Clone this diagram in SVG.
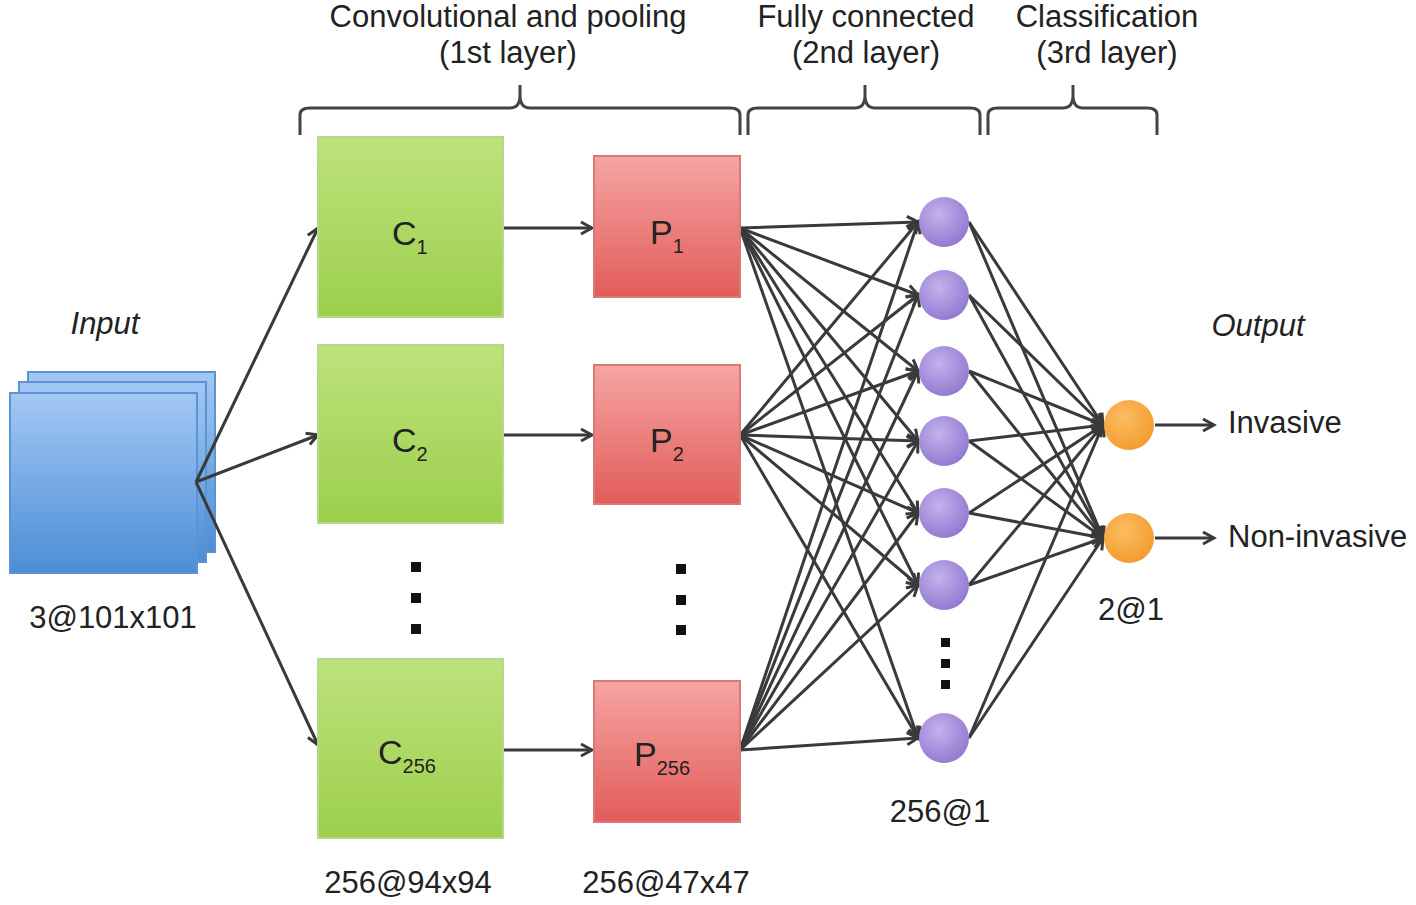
<svg xmlns="http://www.w3.org/2000/svg" width="1416" height="905" viewBox="0 0 1416 905">
<style>
text{font-family:"Liberation Sans",Arial,sans-serif;fill:#222;font-size:31px}
.it{font-style:italic}
.big{font-size:34px}
.c{fill:url(#gg);stroke:#b5d98a;stroke-width:2}
.p{fill:url(#rg);stroke:#d87a78;stroke-width:2}
.in{fill:url(#bg);stroke:#5b93d3;stroke-width:2}
.ln{stroke:#3a3a3a;stroke-width:3;fill:none}
.ar{marker-end:url(#ah)}
.br{stroke:#444;stroke-width:3;fill:none}
.pu{fill:url(#pg)}
.or{fill:url(#og)}
</style>
<defs>
<linearGradient id="gg" x1="0" y1="0" x2="0" y2="1"><stop offset="0" stop-color="#bde27c"/><stop offset="1" stop-color="#9ccf4c"/></linearGradient>
<linearGradient id="rg" x1="0" y1="0" x2="0" y2="1"><stop offset="0" stop-color="#f6a5a3"/><stop offset="1" stop-color="#e25c59"/></linearGradient>
<linearGradient id="bg" x1="0" y1="0" x2="0" y2="1"><stop offset="0" stop-color="#a3c8f5"/><stop offset="1" stop-color="#4b8ed6"/></linearGradient>
<radialGradient id="pg" cx="0.4" cy="0.35" r="0.7"><stop offset="0" stop-color="#c3b2ec"/><stop offset="1" stop-color="#9077cf"/></radialGradient>
<radialGradient id="og" cx="0.4" cy="0.35" r="0.7"><stop offset="0" stop-color="#fbbd63"/><stop offset="1" stop-color="#f39a2c"/></radialGradient>
<marker id="ah" markerWidth="16" markerHeight="16" refX="13" refY="8" orient="auto" markerUnits="userSpaceOnUse"><path d="M2,2 L13,8 L2,14" fill="none" stroke="#3a3a3a" stroke-width="3"/></marker>
</defs>

<g id="braces">
<path class="br" d="M300,135 V115 Q300,108 310,108 H510 Q520,108 520,95 V85 M520,95 Q520,108 530,108 H730 Q740,108 740,115 V135"/>
<path class="br" d="M748,135 V115 Q748,108 758,108 H855 Q865,108 865,95 V85 M865,95 Q865,108 875,108 H970 Q980,108 980,115 V135"/>
<path class="br" d="M988,135 V115 Q988,108 998,108 H1063 Q1073,108 1073,95 V85 M1073,95 Q1073,108 1083,108 H1147 Q1157,108 1157,115 V135"/>
<text x="508" y="27" text-anchor="middle">Convolutional and pooling</text>
<text x="508" y="63" text-anchor="middle">(1st layer)</text>
<text x="866" y="27" text-anchor="middle">Fully connected</text>
<text x="866" y="63" text-anchor="middle">(2nd layer)</text>
<text x="1107" y="27" text-anchor="middle">Classification</text>
<text x="1107" y="63" text-anchor="middle">(3rd layer)</text>
</g>

<g id="input">
<rect class="in" x="28" y="372" width="187" height="180"/>
<rect class="in" x="19" y="382" width="187" height="180"/>
<rect class="in" x="10" y="393" width="187" height="180"/>
<text class="it" x="105" y="334" text-anchor="middle">Input</text>
<text x="113" y="628" text-anchor="middle">3@101x101</text>
</g>

<g id="connectors">
<path class="ln ar" d="M196,482 L318,228"/>
<path class="ln ar" d="M196,482 L318,435"/>
<path class="ln ar" d="M196,482 L318,745"/>
<path class="ln ar" d="M503,228 H592"/>
<path class="ln ar" d="M503,435 H592"/>
<path class="ln ar" d="M503,750 H592"/>
<g class="ln ar">
<path d="M740,228 L918,222"/><path d="M740,228 L918,295"/><path d="M740,228 L918,371"/><path d="M740,228 L918,441"/><path d="M740,228 L918,513"/><path d="M740,228 L918,585"/><path d="M740,228 L918,738"/>
<path d="M740,435 L918,222"/><path d="M740,435 L918,295"/><path d="M740,435 L918,371"/><path d="M740,435 L918,441"/><path d="M740,435 L918,513"/><path d="M740,435 L918,585"/><path d="M740,435 L918,738"/>
<path d="M740,750 L918,222"/><path d="M740,750 L918,295"/><path d="M740,750 L918,371"/><path d="M740,750 L918,441"/><path d="M740,750 L918,513"/><path d="M740,750 L918,585"/><path d="M740,750 L918,738"/>
</g>
<g class="ln ar">
<path d="M969,222 L1103,425"/><path d="M969,295 L1103,425"/><path d="M969,371 L1103,425"/><path d="M969,441 L1103,425"/><path d="M969,513 L1103,425"/><path d="M969,585 L1103,425"/><path d="M969,738 L1103,425"/>
<path d="M969,222 L1103,538"/><path d="M969,295 L1103,538"/><path d="M969,371 L1103,538"/><path d="M969,441 L1103,538"/><path d="M969,513 L1103,538"/><path d="M969,585 L1103,538"/><path d="M969,738 L1103,538"/>
</g>
<path class="ln ar" d="M1155,425 H1214"/>
<path class="ln ar" d="M1155,538 H1214"/>
</g>

<g id="c1"><rect class="c" x="318" y="137" width="185" height="180"/><text class="big" x="392" y="245">C<tspan font-size="20" dy="9">1</tspan></text></g>
<g id="c2"><rect class="c" x="318" y="345" width="185" height="178"/><text class="big" x="392" y="452">C<tspan font-size="20" dy="9">2</tspan></text></g>
<g id="c256"><rect class="c" x="318" y="659" width="185" height="179"/><text class="big" x="378" y="764">C<tspan font-size="20" dy="9">256</tspan></text></g>
<g id="p1"><rect class="p" x="594" y="156" width="146" height="141"/><text class="big" x="650" y="244">P<tspan font-size="20" dy="9">1</tspan></text></g>
<g id="p2"><rect class="p" x="594" y="365" width="146" height="139"/><text class="big" x="650" y="452">P<tspan font-size="20" dy="9">2</tspan></text></g>
<g id="p256"><rect class="p" x="594" y="681" width="146" height="141"/><text class="big" x="634" y="766">P<tspan font-size="20" dy="9">256</tspan></text></g>

<g id="dots" fill="#111">
<rect x="411" y="562" width="10" height="10"/><rect x="411" y="593" width="10" height="10"/><rect x="411" y="624" width="10" height="10"/>
<rect x="676" y="564" width="10" height="10"/><rect x="676" y="595" width="10" height="10"/><rect x="676" y="625" width="10" height="10"/>
<rect x="941" y="638" width="9" height="9"/><rect x="941" y="659" width="9" height="9"/><rect x="941" y="680" width="9" height="9"/>
</g>

<g id="fc">
<circle class="pu" cx="944" cy="222" r="25"/><circle class="pu" cx="944" cy="295" r="25"/><circle class="pu" cx="944" cy="371" r="25"/><circle class="pu" cx="944" cy="441" r="25"/><circle class="pu" cx="944" cy="513" r="25"/><circle class="pu" cx="944" cy="585" r="25"/><circle class="pu" cx="944" cy="738" r="25"/>
</g>
<g id="out">
<circle class="or" cx="1129" cy="425" r="25"/><circle class="or" cx="1129" cy="538" r="25"/>
</g>

<g id="labels">
<text x="408" y="893" text-anchor="middle">256@94x94</text>
<text x="666" y="893" text-anchor="middle">256@47x47</text>
<text x="940" y="822" text-anchor="middle">256@1</text>
<text x="1131" y="620" text-anchor="middle">2@1</text>
<text class="it" x="1258" y="336" text-anchor="middle">Output</text>
<text x="1228" y="433">Invasive</text>
<text x="1228" y="547">Non-invasive</text>
</g>
</svg>
